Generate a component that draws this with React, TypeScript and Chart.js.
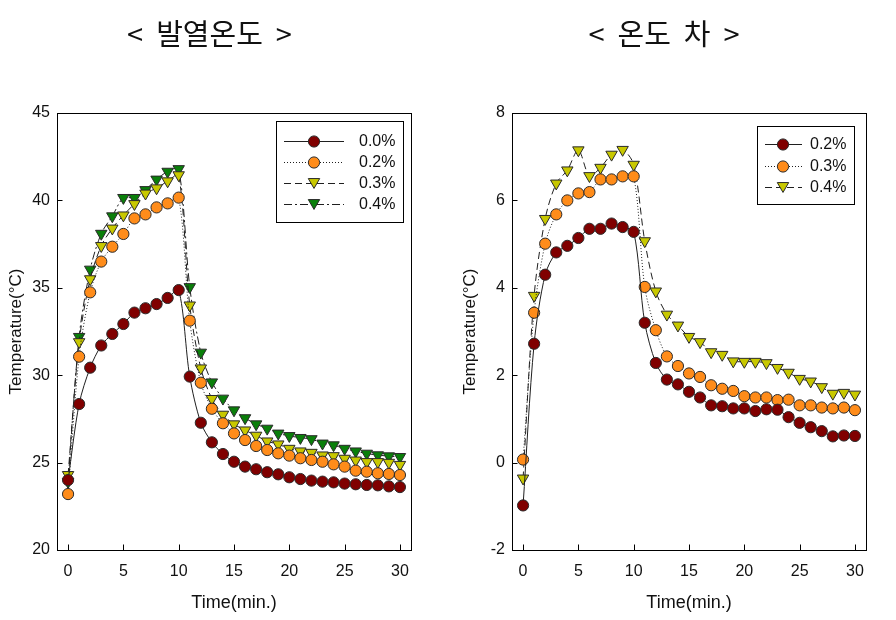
import React, { useEffect, useRef } from "react";
import { Chart, registerables } from "chart.js";

Chart.register(...registerables);

// ---------- data ----------
const timeMin = [0, 1, 2, 3, 4, 5, 6, 7, 8, 9, 10, 11, 12, 13, 14, 15, 16, 17, 18, 19, 20, 21, 22, 23, 24, 25, 26, 27, 28, 29, 30];

const heatLabels = ["0.0%", "0.2%", "0.3%", "0.4%"];
const heat00 = [24.0, 28.35, 30.43, 31.7, 32.36, 32.93, 33.58, 33.83, 34.07, 34.42, 34.87, 29.92, 27.28, 26.16, 25.49, 25.05, 24.77, 24.62, 24.45, 24.33, 24.16, 24.06, 23.97, 23.91, 23.87, 23.8, 23.76, 23.72, 23.7, 23.64, 23.6];
const heat02 = [23.2, 31.06, 34.74, 36.5, 37.35, 38.08, 38.97, 39.2, 39.6, 39.83, 40.16, 33.12, 29.57, 28.08, 27.25, 26.67, 26.29, 25.95, 25.72, 25.53, 25.4, 25.25, 25.15, 25.05, 24.9, 24.77, 24.54, 24.48, 24.39, 24.35, 24.29];
const heat03 = [24.3, 31.9, 35.5, 37.4, 38.4, 39.15, 39.8, 40.4, 40.7, 41.1, 41.45, 34.0, 30.4, 28.65, 27.75, 27.2, 26.85, 26.55, 26.22, 26.05, 25.8, 25.65, 25.57, 25.42, 25.38, 25.23, 25.13, 25.04, 25.04, 25.0, 24.88];
const heat04 = [23.9, 32.2, 36.05, 38.1, 39.1, 40.15, 40.15, 40.6, 41.2, 41.65, 41.8, 35.05, 31.3, 29.6, 28.67, 28.0, 27.55, 27.2, 26.95, 26.67, 26.53, 26.42, 26.35, 26.1, 26.0, 25.8, 25.65, 25.52, 25.43, 25.37, 25.33];

const diffLabels = ["0.2%", "0.3%", "0.4%"];
const diff02 = [-0.98, 2.72, 4.3, 4.81, 4.96, 5.14, 5.35, 5.35, 5.47, 5.39, 5.28, 3.2, 2.28, 1.9, 1.79, 1.62, 1.49, 1.31, 1.29, 1.24, 1.24, 1.18, 1.22, 1.21, 1.04, 0.91, 0.81, 0.72, 0.6, 0.62, 0.61];
const diff03 = [0.07, 3.43, 5.01, 5.68, 6.0, 6.16, 6.19, 6.48, 6.48, 6.55, 6.55, 4.02, 3.03, 2.43, 2.21, 2.04, 1.96, 1.77, 1.69, 1.64, 1.52, 1.49, 1.49, 1.43, 1.44, 1.31, 1.31, 1.26, 1.24, 1.26, 1.2];
const diff04 = [-0.36, 3.82, 5.58, 6.39, 6.69, 7.15, 6.56, 6.75, 7.05, 7.16, 6.82, 5.07, 3.92, 3.39, 3.14, 2.88, 2.76, 2.53, 2.47, 2.32, 2.31, 2.31, 2.28, 2.17, 2.06, 1.92, 1.86, 1.73, 1.58, 1.6, 1.56];

const timeTicks = [0, 5, 10, 15, 20, 25, 30];
const heatTicks = [20, 25, 30, 35, 40, 45];
const diffTicks = [-2, 0, 2, 4, 6, 8];

// ---------- styles ----------
const FONT = "'Liberation Sans', Arial, sans-serif";
const MAROON = "#800000";
const ORANGE = "#FF8C1A";
const OLIVE = "#C8C800";
const GREEN = "#0A7F0A";

type SeriesStyle = { fill: string; shape: string; dash: number[]; r: number };
const circle = (fill: string, dash: number[]): SeriesStyle => ({ fill, shape: "circle", dash, r: 5.6 });
const tri = (fill: string, dash: number[]): SeriesStyle => ({ fill, shape: "triangle", dash, r: 6.6 });

const SOLID: number[] = [];
const DOT = [1, 2];
const DASH = [7, 4];
const DASHDOT = [8, 3, 2, 3];

const heatStyles = [circle(MAROON, SOLID), circle(ORANGE, DOT), tri(OLIVE, DASH), tri(GREEN, DASHDOT)];
const diffStyles = [circle(MAROON, SOLID), circle(ORANGE, DOT), tri(OLIVE, DASH)];

// ---------- plugins ----------
const frameTicksPlugin = {
  id: "frameTicks",
  afterDatasetsDraw(chart: any) {
    const { ctx, chartArea: a, scales } = chart;
    ctx.save();
    ctx.strokeStyle = "#000";
    ctx.lineWidth = 1;
    const l = Math.round(a.left) + 0.5;
    const t = Math.round(a.top) + 0.5;
    const r = Math.round(a.right) + 0.5;
    const b = Math.round(a.bottom) + 0.5;
    ctx.strokeRect(l, t, r - l, b - t);
    ctx.beginPath();
    scales.x.ticks.forEach((tk: any) => {
      const px = Math.round(scales.x.getPixelForValue(tk.value)) + 0.5;
      ctx.moveTo(px, b);
      ctx.lineTo(px, b - 6);
    });
    scales.y.ticks.forEach((tk: any) => {
      const py = Math.round(scales.y.getPixelForValue(tk.value)) + 0.5;
      ctx.moveTo(l, py);
      ctx.lineTo(l + 5, py);
    });
    ctx.stroke();
    ctx.restore();
  },
};

function drawMarker(ctx: CanvasRenderingContext2D, ds: any, x: number, y: number) {
  ctx.save();
  ctx.fillStyle = ds.pointBackgroundColor;
  ctx.strokeStyle = ds.pointBorderColor;
  ctx.lineWidth = 1;
  ctx.setLineDash([]);
  ctx.beginPath();
  const r = ds.pointRadius;
  if (ds.pointStyle === "triangle") {
    const cy = y - r / 4;
    const s = r * Math.sin(Math.PI / 3);
    ctx.moveTo(x, cy + r);
    ctx.lineTo(x - s, cy - r / 2);
    ctx.lineTo(x + s, cy - r / 2);
    ctx.closePath();
  } else {
    ctx.arc(x, y, r, 0, Math.PI * 2);
  }
  ctx.fill();
  ctx.stroke();
  ctx.restore();
}

const boxLegendPlugin = {
  id: "boxLegend",
  afterDraw(chart: any, _args: any, o: any) {
    if (!o || !o.width) return;
    const { ctx, chartArea: a } = chart;
    const x0 = Math.round(a.right - o.right - o.width);
    const y0 = Math.round(a.top + o.top);
    ctx.save();
    ctx.fillStyle = "#fff";
    ctx.fillRect(x0, y0, o.width, o.height);
    ctx.strokeStyle = "#000";
    ctx.lineWidth = 1;
    ctx.strokeRect(x0 + 0.5, y0 + 0.5, o.width, o.height);
    chart.data.datasets.forEach((ds: any, i: number) => {
      const cy = Math.round(y0 + o.firstRow + i * o.rowH);
      ctx.strokeStyle = ds.borderColor;
      ctx.lineWidth = 1;
      ctx.setLineDash(ds.borderDash || []);
      ctx.beginPath();
      ctx.moveTo(x0 + o.lineX0, cy + 0.5);
      ctx.lineTo(x0 + o.lineX1, cy + 0.5);
      ctx.stroke();
      ctx.setLineDash([]);
      drawMarker(ctx, ds, x0 + o.markerX, cy + 0.5);
      ctx.fillStyle = "#111";
      ctx.font = `16px ${FONT}`;
      ctx.textBaseline = "middle";
      ctx.textAlign = "left";
      ctx.fillText(ds.label, x0 + o.labelX, cy + 1);
    });
    ctx.restore();
  },
};

// ---------- config ----------
function makeConfig(p: {
  title: string;
  labels: string[];
  series: number[][];
  styles: SeriesStyle[];
  yMin: number;
  yMax: number;
  yTicks: number[];
  yWidth: number;
  padLeft: number;
  padRight: number;
  legend: any;
}) {
  return {
    type: "line" as const,
    data: {
      datasets: p.series.map((vals, i) => ({
        label: p.labels[i],
        data: timeMin.map((t, j) => ({ x: t, y: vals[j] })),
        borderColor: "#1f1f1f",
        borderWidth: 1,
        borderDash: p.styles[i].dash,
        pointStyle: p.styles[i].shape,
        pointRotation: p.styles[i].shape === "triangle" ? 180 : 0,
        pointRadius: p.styles[i].r,
        pointBackgroundColor: p.styles[i].fill,
        pointBorderColor: "#2a2a2a",
        pointBorderWidth: 1,
        tension: 0.3,
        fill: false,
        clip: false,
      })),
    },
    options: {
      responsive: false,
      animation: false,
      devicePixelRatio: 1,
      layout: { autoPadding: false, padding: { left: p.padLeft, right: p.padRight, top: 0, bottom: 0 } },
      plugins: {
        legend: { display: false },
        tooltip: { enabled: false },
        title: {
          display: true,
          text: p.title,
          color: "#111",
          font: { family: "'Noto Sans CJK KR', sans-serif", size: 29, weight: "normal" as const, lineHeight: 1.2 },
          padding: { top: 8.6, bottom: 61.6 },
        },
        boxLegend: p.legend,
      },
      scales: {
        x: {
          type: "linear" as const,
          min: -1,
          max: 31,
          afterBuildTicks: (s: any) => {
            s.ticks = timeTicks.map((v) => ({ value: v }));
          },
          afterFit: (s: any) => {
            s.height = 64;
            s.paddingLeft = 0;
            s.paddingRight = 0;
          },
          grid: { display: false, drawTicks: false },
          border: { display: false },
          ticks: { padding: 12, color: "#111", font: { family: FONT, size: 16 }, maxRotation: 0 },
          title: {
            display: true,
            text: "Time(min.)",
            color: "#111",
            font: { family: FONT, size: 18, lineHeight: 1.2 },
            padding: { top: 0, bottom: 0 },
          },
        },
        y: {
          type: "linear" as const,
          min: p.yMin,
          max: p.yMax,
          afterBuildTicks: (s: any) => {
            s.ticks = p.yTicks.map((v) => ({ value: v }));
          },
          afterFit: (s: any) => {
            s.width = p.yWidth;
            s.paddingTop = 0;
            s.paddingBottom = 0;
          },
          grid: { display: false, drawTicks: false },
          border: { display: false },
          ticks: { padding: 7, color: "#111", font: { family: FONT, size: 16 } },
          title: {
            display: true,
            text: "Temperature(°C)",
            color: "#111",
            font: { family: FONT, size: 17, lineHeight: 1.0 },
            padding: { top: 0, bottom: 0 },
          },
        },
      },
    },
    plugins: [frameTicksPlugin, boxLegendPlugin],
  };
}

function ChartPanel({ config, width, height }: { config: any; width: number; height: number }) {
  const ref = useRef<HTMLCanvasElement>(null);
  useEffect(() => {
    if (!ref.current) return;
    const chart = new Chart(ref.current, config);
    return () => chart.destroy();
  }, [config]);
  return <canvas ref={ref} width={width} height={height} style={{ display: "block", width, height }} />;
}

const leftConfig = makeConfig({
  title: "<  발열온도  >",
  labels: heatLabels,
  series: [heat00, heat02, heat03, heat04],
  styles: heatStyles,
  yMin: 20,
  yMax: 45,
  yTicks: heatTicks,
  yWidth: 49,
  padLeft: 0,
  padRight: 5,
  legend: { right: 8, top: 8, width: 127, height: 101, firstRow: 20, rowH: 21, lineX0: 8, lineX1: 68, markerX: 38, labelX: 83 },
});

const rightConfig = makeConfig({
  title: "<  온도  차  >",
  labels: diffLabels,
  series: [diff02, diff03, diff04],
  styles: diffStyles,
  yMin: -2,
  yMax: 8,
  yTicks: diffTicks,
  yWidth: 50,
  padLeft: 46,
  padRight: 2,
  legend: { right: 12, top: 13, width: 97, height: 78, firstRow: 18, rowH: 21.5, lineX0: 8, lineX1: 45, markerX: 26, labelX: 53 },
});

export default function App() {
  return (
    <div style={{ display: "flex", alignItems: "flex-start", background: "#fff" }}>
      <ChartPanel config={leftConfig} width={408} height={606} />
      <ChartPanel config={rightConfig} width={452} height={606} />
    </div>
  );
}
